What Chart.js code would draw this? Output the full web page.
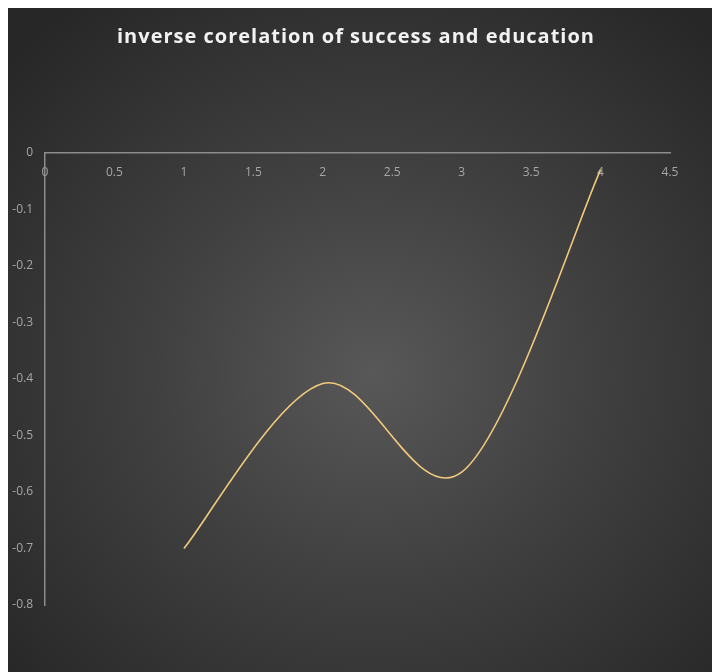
<!DOCTYPE html>
<html>
<head>
<meta charset="utf-8">
<script src="https://cdn.jsdelivr.net/npm/chart.js@4/dist/chart.umd.min.js"></script>
<style>
  html, body { margin: 0; padding: 0; background: #fff; }
  #wrap {
    position: absolute; left: 8px; top: 8px; width: 704px; height: 664px;
    background: radial-gradient(ellipse 70% 70% at 52% 55%, #585858 0%, #404040 45%, #272727 100%);
  }
</style>
</head>
<body>
<div id="wrap"><canvas id="myChart" width="704" height="664"></canvas></div>
<script>
// values
const titleText = 'inverse corelation of success and education';
const educationX = [1, 2, 3, 4];
const successY = [-0.7, -0.408, -0.565, -0.03];
const xMin = 0, xMax = 4.5, xStep = 0.5;
const yMin = -0.8, yMax = 0, yStep = 0.1;

const points = educationX.map((x, i) => ({ x: x, y: successY[i] }));

const tickColor = '#a6a6a6';
const axisColor = '#8c8c8c';
const fmt = (v) => String(parseFloat(Number(v).toFixed(2)));

// title with letter spacing, like the office chart
const spacedTitle = {
  id: 'spacedTitle',
  afterDraw(chart) {
    const c = chart.ctx;
    c.save();
    c.font = 'bold 20px "Open Sans"';
    c.fillStyle = '#f2f2f2';
    c.textAlign = 'center';
    c.textBaseline = 'middle';
    c.letterSpacing = '1px';
    c.fillText(titleText, chart.width / 2 - 4, 29);
    c.restore();
  }
};

// smoothing like the spreadsheet: control points at 1/6 of the neighbour chord
const officeSmooth = {
  id: 'officeSmooth',
  beforeDatasetDraw(chart, args) {
    const meta = args.meta;
    const line = meta.dataset;
    if (!line) return;
    line.updateControlPoints(chart.chartArea, meta.iScale.axis);
    const pts = meta.data;
    for (let i = 0; i < pts.length; i++) {
      const p = pts[i];
      const prev = pts[i - 1] || p;
      const next = pts[i + 1] || p;
      const dx = (next.x - prev.x) / 6;
      const dy = (next.y - prev.y) / 6;
      p.cp1x = p.x - dx; p.cp1y = p.y - dy;
      p.cp2x = p.x + dx; p.cp2y = p.y + dy;
    }
    line._path = undefined;
  }
};

const ctx = document.getElementById('myChart').getContext('2d');
const chart = new Chart(ctx, {
  type: 'line',
  data: {
    datasets: [{
      data: points,
      borderColor: '#f2c97c',
      borderWidth: 1.6,
      pointRadius: 0,
      tension: 0.35,
      fill: false
    }]
  },
  options: {
    responsive: false,
    animation: false,
    layout: { padding: { left: 0, right: 42, bottom: 67, top: 145 } },
    plugins: {
      legend: { display: false },
      tooltip: { enabled: false },
      title: { display: false }
    },
    scales: {
      x: {
        type: 'linear',
        position: { y: 0 },
        min: xMin, max: xMax,
        ticks: { stepSize: xStep, color: tickColor, padding: 12, callback: fmt, font: { family: 'Open Sans', size: 12 } },
        grid: { display: false, drawTicks: false },
        border: { display: true, color: axisColor, width: 1.5 }
      },
      y: {
        type: 'linear',
        position: 'left',
        min: yMin, max: yMax,
        ticks: { stepSize: yStep, color: tickColor, padding: 12, callback: fmt, font: { family: 'Open Sans', size: 12 } },
        grid: { display: false, drawTicks: false },
        border: { display: true, color: axisColor, width: 1.5 },
        afterFit: (scale) => { scale.width = 37; }
      }
    }
  },
  plugins: [officeSmooth, spacedTitle]
});
</script>
</body>
</html>
